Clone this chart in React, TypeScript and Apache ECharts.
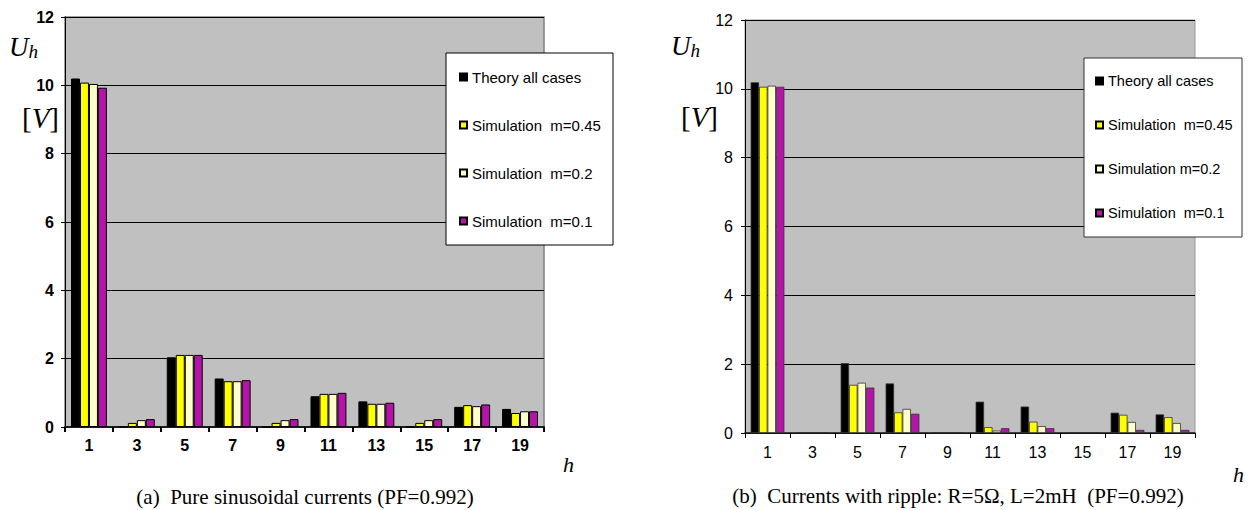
import React, { useEffect, useRef } from "react";
import * as echarts from "echarts";

const categories = ["1", "3", "5", "7", "9", "11", "13", "15", "17", "19"];
const seriesNames = ["Theory all cases", "Simulation  m=0.45", "Simulation  m=0.2", "Simulation  m=0.1"];
const yTicks = [0, 2, 4, 6, 8, 10, 12];

// (a) Pure sinusoidal currents
const theoryA = [10.2, 0, 2.04, 1.42, 0, 0.9, 0.75, 0, 0.59, 0.53];
const sim045A = [10.08, 0.12, 2.11, 1.34, 0.12, 0.97, 0.68, 0.12, 0.64, 0.41];
const sim02A = [10.04, 0.2, 2.11, 1.34, 0.2, 0.97, 0.68, 0.2, 0.61, 0.46];
const sim01A = [9.93, 0.23, 2.11, 1.37, 0.23, 1.0, 0.71, 0.23, 0.66, 0.46];

// (b) Currents with ripple
const theoryB = [10.19, 0.02, 2.03, 1.44, 0.02, 0.91, 0.77, 0.02, 0.59, 0.54];
const sim045B = [10.06, 0.02, 1.4, 0.6, 0.02, 0.17, 0.33, 0.02, 0.53, 0.46];
const sim02B = [10.09, 0.02, 1.46, 0.7, 0.02, 0.07, 0.2, 0.02, 0.32, 0.29];
const sim01B = [10.06, 0.02, 1.32, 0.56, 0.02, 0.14, 0.14, 0.02, 0.09, 0.09];

const colors = ["#000000", "#ffff00", "#ffffcc", "#b414a8"];
const SANS = "'Liberation Sans', Arial, sans-serif";
const SERIF = "'Liberation Serif', 'Times New Roman', serif";

export default function App() {
  const ref = useRef<HTMLDivElement>(null);
  useEffect(() => {
    if (!ref.current) return;
    const chart = echarts.init(ref.current, null, { renderer: "svg" });
    const dataA = [theoryA, sim045A, sim02A, sim01A];
    const dataB = [theoryB, sim045B, sim02B, sim01B];

    const mkSeries = (data: number[][], idx: number, bw: number, bc: string) =>
      data.map((d, i) => ({
        name: seriesNames[i],
        type: "bar",
        xAxisIndex: idx,
        yAxisIndex: idx,
        data: d,
        barGap: "0%",
        barCategoryGap: "25%",
        itemStyle: { color: colors[i], borderColor: bc, borderWidth: bw },
      }));

    const xAxisBase = (idx: number, bold: boolean, margin: number) => ({
      type: "category",
      gridIndex: idx,
      data: categories,
      axisLine: { show: true, lineStyle: { color: "#1a1a1a", width: bold ? 2 : 1.5 } },
      axisTick: { show: true, length: 5, lineStyle: { color: "#000", width: bold ? 2 : 1 } },
      axisLabel: {
        color: "#000",
        fontFamily: SANS,
        fontSize: 16,
        fontWeight: bold ? "bold" : "normal",
        margin,
      },
    });
    const yAxisBase = (idx: number, bold: boolean, margin: number) => ({
      type: "value",
      gridIndex: idx,
      min: yTicks[0],
      max: yTicks[yTicks.length - 1],
      interval: 2,
      axisLine: { show: true, lineStyle: { color: "#000", width: 1 } },
      axisTick: { show: true, length: 4, lineStyle: { color: "#000" } },
      axisLabel: {
        color: "#000",
        fontFamily: SANS,
        fontSize: 16,
        fontWeight: bold ? "bold" : "normal",
        margin,
      },
      splitLine: { show: true, lineStyle: { color: "#000", width: 1 } },
    });

    const legendBase = (left: number, top: number, gap: number, size: number, fmt: (n: string) => string) => ({
      orient: "vertical",
      left,
      top,
      padding: 0,
      itemGap: gap,
      itemWidth: 7,
      itemHeight: 7,
      icon: "rect",
      selectedMode: false,
      data: seriesNames,
      formatter: fmt,
      textStyle: { fontFamily: SANS, fontSize: size, color: "#000", lineHeight: 16 },
    });

    const uLabel = (x: number, y: number) => ({
      type: "text",
      x,
      y,
      style: {
        text: "{u|U}{s|h}",
        rich: {
          u: { fontFamily: SERIF, fontStyle: "italic", fontSize: 27, fill: "#000" },
          s: { fontFamily: SERIF, fontStyle: "italic", fontSize: 19, fill: "#000", padding: [10, 0, 0, 0] },
        },
        fill: "#000",
      },
    });
    const vLabel = (x: number, y: number) => ({
      type: "text",
      x,
      y,
      style: {
        text: "{b|[}{v|V}{b|]}",
        rich: {
          b: { fontFamily: SERIF, fontSize: 29, fill: "#000" },
          v: { fontFamily: SERIF, fontStyle: "italic", fontSize: 29, fill: "#000" },
        },
        fill: "#000",
      },
    });
    const hLabel = (x: number, y: number) => ({
      type: "text",
      x,
      y,
      style: { text: "h", fontFamily: SERIF, fontStyle: "italic", fontSize: 22, fill: "#000" },
    });
    const caption = (x: number, y: number, text: string) => ({
      type: "text",
      x,
      y,
      style: {
        text,
        fontFamily: SERIF,
        fontSize: 21,
        fill: "#000",
        align: "center",
        verticalAlign: "middle",
      },
    });

    chart.setOption({
      animation: false,
      backgroundColor: "#ffffff",
      grid: [
        {
          left: 65,
          top: 17,
          width: 479,
          height: 410,
          show: true,
          backgroundColor: "#c0c0c0",
          borderColor: "#808080",
          borderWidth: 1.5,
        },
        {
          left: 745,
          top: 20,
          width: 450,
          height: 413,
          show: true,
          backgroundColor: "#c0c0c0",
          borderColor: "#9a9a9a",
          borderWidth: 1,
        },
      ],
      xAxis: [xAxisBase(0, true, 10), xAxisBase(1, false, 11)],
      yAxis: [yAxisBase(0, true, 11), yAxisBase(1, false, 12)],
      legend: [
        legendBase(459, 69, 32, 15, (n: string) => n),
        legendBase(1095, 73, 28, 14.5, (n: string) =>
          n === "Simulation  m=0.2" ? "Simulation m=0.2" : n
        ),
      ],
      graphic: [
        {
          type: "rect",
          z: 3,
          shape: { x: 446, y: 53, width: 167, height: 192 },
          style: { fill: "#ffffff", stroke: "#000", lineWidth: 1 },
        },
        {
          type: "rect",
          z: 3,
          shape: { x: 1084, y: 58, width: 158, height: 179 },
          style: { fill: "#ffffff", stroke: "#333", lineWidth: 1 },
        },
        uLabel(9, 32),
        vLabel(22, 103),
        uLabel(671, 31),
        vLabel(681, 102),
        hLabel(563, 453),
        hLabel(1233, 463),
        caption(305, 497, "(a)  Pure sinusoidal currents (PF=0.992)"),
        caption(958, 496, "(b)  Currents with ripple: R=5Ω, L=2mH  (PF=0.992)"),
      ],
      series: [...mkSeries(dataA, 0, 1, "#000"), ...mkSeries(dataB, 1, 0.8, "#333")],
    });
    return () => chart.dispose();
  }, []);
  return (
    <div
      ref={ref}
      style={{ position: "fixed", left: 0, top: 0, width: 1254, height: 510, background: "#fff" }}
    />
  );
}
